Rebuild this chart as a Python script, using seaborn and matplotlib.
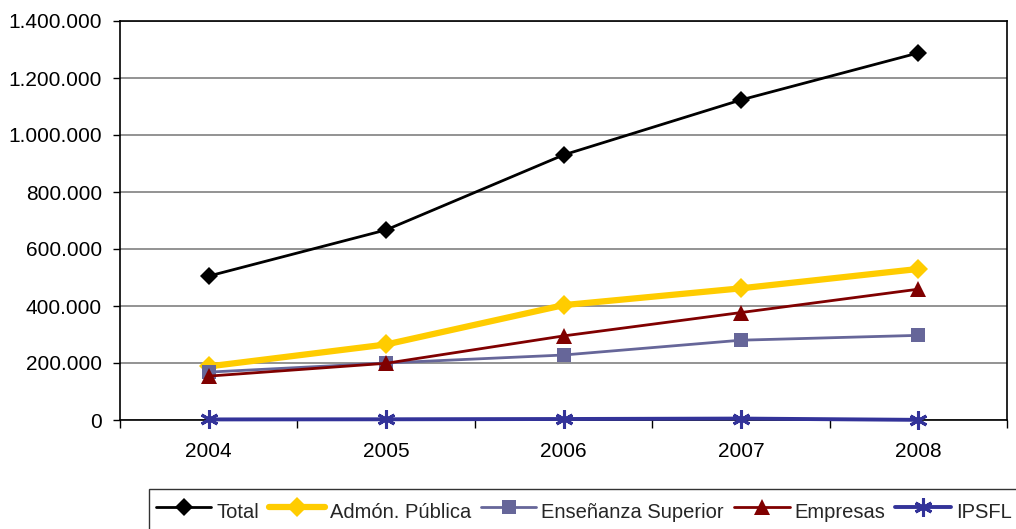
import matplotlib
matplotlib.use("Agg")
import matplotlib.pyplot as plt
import seaborn as sns
import pandas as pd
import numpy as np
from matplotlib.ticker import FuncFormatter, FixedLocator

years = ["2004", "2005", "2006", "2007", "2008"]
total = [505000, 667000, 930000, 1123000, 1288000]
admon_publica = [188000, 265000, 403000, 462000, 530000]
ensenanza_superior = [168000, 200000, 228000, 280000, 297000]
empresas = [154000, 199000, 295000, 377000, 459000]
ipsfl = [2000, 2500, 3500, 5000, 500]

series_names = ["Total", "Admón. Pública", "Enseñanza Superior", "Empresas", "IPSFL"]
series_values = [total, admon_publica, ensenanza_superior, empresas, ipsfl]

sns.set_theme(style="white")
plt.rcParams["font.family"] = ["Liberation Sans", "DejaVu Sans"]

fig = plt.figure(figsize=(10.16, 5.29), dpi=100)
ax = fig.add_axes([120 / 1016, 1 - 420 / 529, 887 / 1016, 399 / 529])

styles = {
    "Total": dict(color="#000000", lw=2.0, marker="D", ms=9, mew=0),
    "Admón. Pública": dict(color="#FFCC00", lw=4.5, marker="D", ms=10, mew=0),
    "Enseñanza Superior": dict(color="#666699", lw=2.0, marker="s", ms=10, mew=0),
    "Empresas": dict(color="#800000", lw=2.0, marker="^", ms=11, mew=0),
    "IPSFL": dict(color="#333399", lw=2.8, marker=(6, 2, 0), ms=13, mew=2.2),
}

pos = np.arange(len(years))
for name, vals in zip(series_names, series_values):
    df = pd.DataFrame({"x": pos, "y": vals})
    st = styles[name]
    sns.lineplot(data=df, x="x", y="y", ax=ax, color=st["color"], linewidth=st["lw"],
                 marker=st["marker"], markersize=st["ms"], markeredgewidth=st["mew"],
                 markeredgecolor=st["color"], label=name, clip_on=False, zorder=3)

ax.set_xlim(-0.5, len(years) - 0.5)
ax.set_ylim(0, 1400000)
ax.set_xlabel("")
ax.set_ylabel("")

ax.set_xticks(pos)
ax.set_xticklabels(years)
ax.xaxis.set_minor_locator(FixedLocator(np.arange(-0.5, len(years), 1.0)))
ax.tick_params(axis="x", which="major", length=0, pad=16, labelsize=15, colors="black")
ax.tick_params(axis="x", which="minor", length=6, width=1, color="black", direction="out", bottom=True)

ax.set_yticks(np.arange(0, 1400001, 200000))
ax.yaxis.set_major_formatter(FuncFormatter(lambda v, p: f"{int(v):,}".replace(",", ".")))
ax.tick_params(axis="y", which="major", length=5, width=1, color="black", direction="out",
               left=True, pad=8, labelsize=15, labelcolor="black")

ax.grid(axis="y", color="#808080", linewidth=1.2)
ax.set_axisbelow(True)
for s in ax.spines.values():
    s.set_visible(True)
    s.set_color("black")
    s.set_linewidth(1.2)

ax.get_legend().remove()
handles, labels = ax.get_legend_handles_labels()
leg = fig.legend(handles, labels, loc="upper left", bbox_to_anchor=(149 / 1016, 1 - 489 / 529),
                 ncol=5, frameon=True, fancybox=False, edgecolor="black", fontsize=14.5,
                 handlelength=2.75, handleheight=2.0, columnspacing=0.5, handletextpad=0.25,
                 borderpad=0.35, borderaxespad=0)
leg.get_frame().set_linewidth(1.0)

fig.savefig("out.png", dpi=100)
